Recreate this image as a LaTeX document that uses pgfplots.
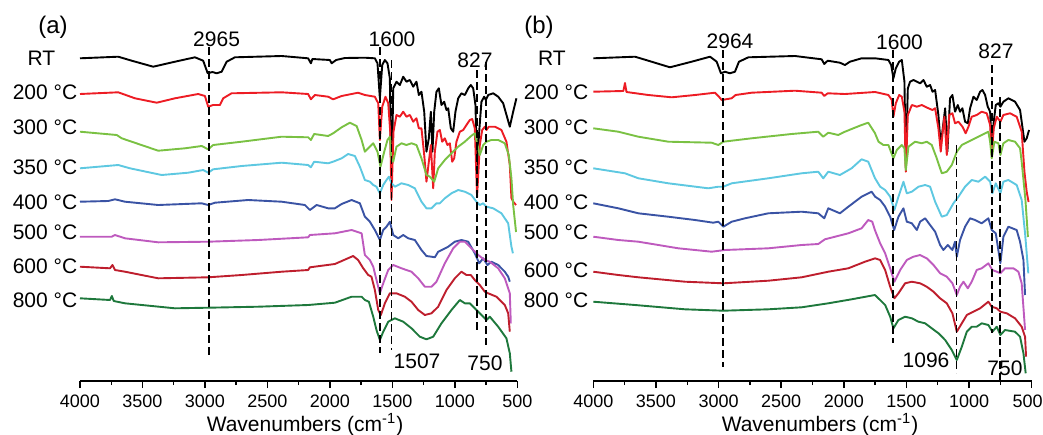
\documentclass[border=0pt]{standalone}
\usepackage{fontspec}
\setmainfont{Liberation Sans}
\usepackage{pgfplots}
\pgfplotsset{compat=1.18}

\definecolor{cRT}{RGB}{0,0,0}
\definecolor{cA}{RGB}{237,28,36}
\definecolor{cB}{RGB}{122,193,67}
\definecolor{cC}{RGB}{94,200,225}
\definecolor{cD}{RGB}{58,83,164}
\definecolor{cE}{RGB}{190,90,190}
\definecolor{cF}{RGB}{190,30,45}
\definecolor{cG}{RGB}{30,120,60}

\pgfplotsset{
  ftir/.style={
    scale only axis, height=170.5pt,
    xmin=500, xmax=4000, ymin=-381, ymax=-40, x dir=reverse,
    axis x line=bottom, axis y line=none,
    axis line style={-, line width=0.9pt},
    xtick={500,1000,...,4000}, minor x tick num=1,
    tick align=outside, major tick length=3.5pt, minor tick length=2pt,
    every tick/.style={black, line width=0.7pt},
    tick label style={font=\fontsize{9}{10}\selectfont},
    /pgf/number format/assume math mode=true,
    /pgf/number format/1000 sep={},
    clip=false,
    every axis plot/.append style={line width=0.95pt, line join=round, mark=none},
  },
}
\tikzset{peak/.style={black, line width=0.85pt, dash pattern=on 4pt off 2pt}}
\newcommand{\lab}{\fontsize{10.5}{12}\selectfont}

\begin{document}
\begin{tikzpicture}
\useasboundingbox (0,0) rectangle (521.5pt,-217pt);

% ---------------- panel (a) ----------------
\begin{axis}[ftir, width=218.65pt, anchor=south west, at={(40pt,-190.5pt)}]
% RT
\addplot[cRT] coordinates {(4000,-58.3) (3694,-56.7) (3586,-60.7) (3414,-66.7) (3240,-61.7) (3080,-57.3) (3014,-60.7) (2978,-73.3) (2940,-72) (2906,-73.3) (2866,-71.7) (2826,-61.7) (2760,-57.3) (2386,-56) (2174,-58.3) (2152,-63.3) (2140,-59) (2000,-60) (1986,-63.3) (1950,-60) (1880,-58) (1720,-57.7) (1640,-58.3) (1619,-63.3) (1600,-98.3) (1581,-65) (1560,-60) (1539,-63.3) (1520,-78.3) (1507,-192) (1493,-88.3) (1467,-81.7) (1440,-85) (1413,-76.7) (1387,-81.7) (1360,-80) (1333,-86.7) (1307,-81.7) (1288,-95) (1267,-91.7) (1245,-111.7) (1227,-151.7) (1208,-138.3) (1192,-111.7) (1179,-151.7) (1165,-111.7) (1147,-91.7) (1128,-88.3) (1107,-105) (1085,-101.7) (1067,-110) (1053,-108.3) (1032,-128.3) (1013,-131.7) (995,-111.7) (973,-98.3) (947,-93.3) (920,-95) (893,-88.3) (872,-85) (853,-88.3) (835,-105) (822,-165) (803,-128.3) (787,-101.7) (765,-96.7) (752,-100) (733,-95) (693,-93.3) (653,-96.7) (613,-103.3) (579,-118.3) (560,-126.7) (533,-111.7) (507,-98.3)};
% 200 C
\addplot[cA] coordinates {(4000,-94) (3694,-92.3) (3560,-98.3) (3386,-102.7) (3240,-98.3) (3054,-94) (3000,-96) (2974,-106.7) (2934,-105) (2880,-105) (2854,-98.3) (2787,-93.3) (2386,-92.3) (2174,-94) (2152,-99.3) (2120,-95) (2014,-96.7) (1974,-99.3) (1906,-96) (1774,-92.7) (1720,-95) (1640,-96.7) (1613,-103.3) (1600,-140) (1581,-106.7) (1555,-96.7) (1533,-103.3) (1517,-131.7) (1507,-200) (1491,-131.7) (1467,-115) (1440,-116.7) (1413,-111.7) (1387,-116.7) (1360,-115) (1333,-121.7) (1307,-118.3) (1288,-128.3) (1267,-128.3) (1245,-155) (1227,-181.7) (1208,-161.7) (1192,-145) (1173,-188.3) (1160,-151.7) (1139,-131.7) (1120,-130) (1101,-141.7) (1080,-138.3) (1059,-145) (1040,-143.3) (1021,-161.7) (1005,-158.3) (987,-141.7) (960,-131.7) (933,-130) (907,-125) (880,-120) (861,-119) (840,-128.3) (822,-197) (800,-145) (781,-130) (760,-126.7) (747,-130) (728,-126.7) (680,-126.7) (627,-130) (587,-141.7) (560,-165) (547,-198) (533,-201.7) (510,-205)};
% 300 C
\addplot[cB] coordinates {(4000,-131.7) (3706,-135) (3666,-138.3) (3586,-141.7) (3374,-150.7) (3160,-148.3) (3026,-146) (2974,-149.3) (2934,-145) (2706,-141.7) (2386,-136.7) (2174,-137.3) (2152,-140) (2126,-134) (2014,-136) (1974,-133.3) (1906,-127.3) (1840,-122.7) (1786,-126) (1746,-140) (1720,-151.7) (1693,-148.3) (1653,-143.3) (1619,-151.7) (1595,-166.7) (1565,-151.7) (1539,-140) (1520,-136.7) (1507,-160) (1493,-161.7) (1467,-146.7) (1427,-143.3) (1387,-145) (1347,-143.3) (1307,-145) (1267,-158.3) (1227,-175) (1200,-176.7) (1165,-181.7) (1133,-168.3) (1080,-160) (1027,-153.3) (973,-146.7) (920,-141.7) (867,-135.7) (840,-133.3) (819,-145) (800,-155) (773,-145) (747,-141.7) (707,-140) (653,-140) (600,-143.3) (568,-155) (547,-178.3) (533,-205) (510,-232)};
% 350 C
\addplot[cC] coordinates {(4000,-168.3) (3694,-165) (3600,-168.3) (3346,-175) (3134,-172.7) (3014,-170) (2974,-172.7) (2934,-169.3) (2706,-166) (2386,-162.7) (2174,-165) (2152,-167.3) (2126,-161.7) (2014,-163.3) (1974,-161.7) (1906,-158.3) (1854,-154) (1800,-156) (1760,-166.7) (1720,-180) (1680,-181.7) (1653,-185) (1627,-186.7) (1600,-193.3) (1573,-185) (1547,-180) (1528,-176.7) (1507,-183.3) (1480,-186.7) (1427,-183.3) (1373,-185) (1320,-188.3) (1267,-201.7) (1227,-208.3) (1187,-208.3) (1147,-203.3) (1120,-203.3) (1080,-198.3) (1027,-193.3) (973,-190) (920,-191.7) (867,-195) (827,-201.7) (800,-205) (773,-203.3) (747,-206.7) (693,-208.3) (627,-213.3) (573,-223.3) (547,-246.7) (535,-253.3)};
% 400 C
\addplot[cD] coordinates {(4000,-201.7) (3774,-201) (3720,-199.3) (3640,-201.7) (3374,-205) (3026,-203.3) (2974,-205) (2920,-202.7) (2654,-200) (2386,-201.7) (2200,-205) (2160,-210) (2106,-205) (2014,-208.3) (1960,-208.3) (1906,-204) (1826,-200) (1760,-203.3) (1720,-216.7) (1680,-221.7) (1640,-230) (1600,-240) (1573,-230) (1547,-226.7) (1520,-221.7) (1493,-235) (1453,-238.3) (1413,-235) (1373,-238.3) (1320,-240) (1267,-250) (1227,-256) (1187,-256.7) (1160,-257.3) (1133,-251.7) (1093,-249.3) (1053,-246.7) (1000,-241.7) (947,-240) (893,-241.7) (840,-253.3) (805,-263.3) (773,-258.3) (739,-265) (707,-261.7) (653,-265) (600,-271.7) (573,-276.7) (560,-281.7)};
% 500 C
\addplot[cE] coordinates {(4000,-236.7) (3746,-236.7) (3720,-235) (3640,-238.3) (3374,-242.3) (2974,-241.7) (2574,-240) (2174,-237.3) (2160,-235) (1960,-233.3) (1826,-230) (1746,-233.3) (1720,-255) (1680,-260) (1653,-266.7) (1627,-280) (1600,-293.3) (1573,-283.3) (1533,-270) (1493,-265) (1427,-268.3) (1347,-271.7) (1293,-278.3) (1240,-286.7) (1187,-286.7) (1147,-281.7) (1080,-263.3) (1013,-248.3) (960,-241.7) (920,-241.7) (867,-248.3) (813,-255) (760,-260) (720,-261.7) (653,-268.3) (600,-278.3) (560,-293.3) (552,-323.3)};
% 600 C
\addplot[cF] coordinates {(4000,-266.7) (3760,-268.3) (3740,-265) (3720,-270) (3640,-271.7) (3374,-278.3) (2974,-277.3) (2706,-275) (2386,-271.7) (2174,-270) (2160,-267.3) (1960,-264) (1814,-256) (1774,-260) (1733,-268.3) (1693,-275) (1667,-276.7) (1640,-290) (1613,-310) (1592,-315) (1560,-303.3) (1520,-293.3) (1467,-293.3) (1400,-296.7) (1347,-301.7) (1293,-310) (1240,-315) (1187,-313.3) (1133,-306.7) (1067,-290) (1000,-278.3) (947,-271.7) (907,-275) (872,-275) (840,-280) (800,-285) (760,-291.7) (733,-293.3) (667,-296.7) (600,-305) (573,-313.3) (560,-331.7)};
% 800 C
\addplot[cG] coordinates {(4000,-298.3) (3760,-300) (3745,-296) (3730,-301) (3640,-303.3) (3240,-308.3) (2974,-307.7) (2574,-306.7) (2174,-305) (1960,-302.7) (1826,-296.7) (1746,-296.7) (1720,-300) (1688,-301.7) (1653,-316.7) (1627,-330) (1600,-340) (1573,-331.7) (1533,-321.7) (1480,-318.3) (1413,-321.7) (1347,-328.3) (1280,-336.7) (1227,-339.3) (1173,-336.7) (1107,-323.3) (1027,-310) (960,-300) (920,-303.3) (880,-303.3) (827,-310) (773,-316.7) (747,-320) (720,-316.7) (653,-326.7) (587,-338.3) (560,-353.3) (547,-371.7)};
\draw[peak] (axis cs:2970,-47) -- (axis cs:2970,-357);
\draw[peak] (axis cs:1600,-47) -- (axis cs:1600,-353);
\draw[peak] (axis cs:1507,-60) -- (axis cs:1507,-350);
\draw[peak] (axis cs:825,-70) -- (axis cs:825,-330);
\draw[peak] (axis cs:752,-62) -- (axis cs:752,-345);
\end{axis}

% ---------------- panel (b) ----------------
\begin{axis}[ftir, width=219.2pt, anchor=south west, at={(296.65pt,-190.5pt)},
  xticklabels={\makebox[0pt][r]{500\hspace{-5.5pt}},1000,1500,2000,2500,3000,3500,4000}]
% RT
\addplot[cRT] coordinates {(4000,-58.3) (3667,-56.7) (3561,-60.7) (3388,-67.3) (3215,-61.7) (3068,-56.7) (3015,-61.7) (2981,-73.3) (2949,-71.7) (2909,-73.3) (2869,-71.7) (2837,-61.7) (2762,-57.3) (2390,-56) (2177,-59.3) (2156,-64) (2129,-60.7) (2031,-62.7) (1991,-65) (1951,-61.7) (1858,-58.3) (1750,-58.3) (1644,-60) (1622,-65) (1604,-78.3) (1585,-68.3) (1558,-61.7) (1537,-60) (1516,-81.7) (1505,-168.3) (1489,-88.3) (1471,-81.7) (1444,-80) (1417,-81.7) (1391,-83.3) (1364,-80) (1338,-86.7) (1311,-85) (1292,-91.7) (1271,-90) (1245,-115) (1226,-145) (1210,-128.3) (1191,-108.3) (1173,-151.7) (1152,-98.3) (1133,-95) (1112,-111.7) (1090,-105) (1072,-111.7) (1053,-108.3) (1032,-121.7) (1010,-123.3) (992,-108.3) (965,-96.7) (939,-100) (912,-91.7) (893,-90) (872,-95) (851,-106.7) (832,-111.7) (819,-148.3) (803,-121.7) (787,-105) (766,-103.3) (750,-106.7) (726,-101.7) (686,-98.3) (633,-101.7) (593,-110) (558,-141.7) (540,-138.3) (521,-130)};
% 200 C
\addplot[cA] coordinates {(4000,-91.7) (3760,-91) (3747,-83) (3735,-92) (3561,-95) (3374,-97.3) (3188,-95) (3029,-92.7) (2997,-96.7) (2975,-100) (2896,-98.3) (2864,-95) (2736,-92.7) (2390,-90.7) (2177,-92.7) (2156,-96) (2129,-93.3) (1991,-94) (1750,-92) (1644,-95) (1617,-100) (1604,-116.7) (1585,-103.3) (1558,-95) (1537,-96.7) (1516,-111.7) (1505,-171.7) (1489,-115) (1457,-105) (1417,-106.7) (1378,-105) (1324,-108.3) (1292,-110) (1271,-108.3) (1245,-128.3) (1226,-151.7) (1210,-131.7) (1197,-116.7) (1178,-155) (1159,-115) (1133,-113.3) (1112,-123.3) (1085,-121.7) (1053,-126.7) (1027,-133.3) (1005,-126.7) (979,-116.7) (939,-115) (899,-111.7) (859,-113.3) (832,-125) (819,-155) (803,-128.3) (779,-116.7) (750,-121.7) (726,-115) (673,-113.3) (620,-116.7) (580,-131.7) (558,-171.7) (540,-191.7) (525,-202)};
% 300 C
\addplot[cB] coordinates {(4000,-128.3) (3800,-131.7) (3640,-136.7) (3401,-141.7) (3055,-142.7) (3002,-145) (2962,-141.7) (2736,-138.3) (2417,-134) (2204,-131.7) (2164,-136.7) (2124,-132.7) (2044,-135) (1991,-131.7) (1858,-125) (1805,-122.7) (1752,-133) (1723,-141.7) (1684,-145) (1644,-145) (1604,-158.3) (1577,-150) (1537,-145) (1516,-148.3) (1505,-170) (1484,-146.7) (1431,-141.7) (1378,-143.3) (1338,-141.7) (1298,-145) (1258,-158.3) (1218,-173.3) (1178,-171.7) (1138,-165) (1098,-151.7) (1058,-145) (1005,-141.7) (952,-138.3) (899,-135) (846,-131.7) (832,-141.7) (819,-158.3) (798,-141.7) (766,-143.3) (750,-155) (726,-143.3) (686,-140) (633,-141.7) (593,-148.3) (580,-161.7) (550,-200) (530,-237)};
% 350 C
\addplot[cC] coordinates {(4000,-168.3) (3747,-173.3) (3640,-178.3) (3401,-183.3) (3082,-188.3) (3002,-186.7) (2962,-186.7) (2895,-183.3) (2603,-178.3) (2337,-173.3) (2204,-171.7) (2164,-178.3) (2124,-171.7) (2031,-175) (1938,-168.3) (1858,-159.3) (1805,-161.7) (1752,-178) (1710,-186.7) (1670,-190) (1630,-196.7) (1596,-210) (1564,-196.7) (1524,-181.7) (1497,-193.3) (1457,-191.7) (1404,-186.7) (1351,-185) (1311,-186.7) (1271,-201.7) (1218,-216.7) (1178,-215) (1125,-203.3) (1085,-196.7) (1032,-186.7) (979,-180) (925,-181.7) (872,-176.7) (832,-181.7) (814,-193.3) (787,-183.3) (750,-193.3) (726,-181.7) (686,-180) (620,-185) (580,-200) (553,-233.3) (527,-273.3)};
% 400 C
\addplot[cD] coordinates {(4000,-203.3) (3800,-208.3) (3640,-213.3) (3401,-216.7) (3188,-220) (3042,-222.7) (3002,-221.7) (2962,-226.7) (2895,-221.7) (2789,-218.3) (2603,-213.3) (2337,-211.7) (2204,-213.3) (2156,-218.3) (2124,-208.3) (2031,-213.3) (1964,-206.7) (1858,-196.7) (1778,-191.7) (1750,-196.7) (1710,-200) (1670,-206.7) (1630,-216.7) (1598,-230) (1564,-216.7) (1524,-208.3) (1497,-221.7) (1457,-223.3) (1417,-230) (1391,-221.7) (1351,-218.3) (1311,-225) (1271,-231.7) (1231,-245) (1205,-250) (1170,-245) (1133,-250) (1112,-241.7) (1098,-256.7) (1072,-240) (1032,-226.7) (992,-218.3) (952,-220) (899,-223.3) (846,-218.3) (819,-230) (787,-233.3) (750,-263.3) (726,-236.7) (686,-226.7) (620,-230) (593,-241.7) (566,-260) (553,-295)};
% 500 C
\addplot[cE] coordinates {(4000,-236.7) (3800,-240) (3640,-241.7) (3321,-248.3) (3055,-251.7) (2949,-250) (2603,-248.3) (2337,-245) (2204,-244) (2151,-239.3) (1964,-233.3) (1858,-228.3) (1805,-220) (1773,-221.7) (1752,-230) (1710,-243.3) (1670,-253.3) (1630,-268.3) (1596,-281.7) (1550,-270) (1497,-260) (1444,-256.7) (1391,-255) (1338,-258.3) (1284,-265) (1231,-273.3) (1178,-276.7) (1133,-283.3) (1098,-295) (1072,-286.7) (1045,-281.7) (1010,-288.3) (979,-281.7) (939,-270) (899,-268.3) (846,-263.3) (814,-270) (779,-271.7) (750,-273.3) (713,-268.3) (646,-268.3) (606,-271.7) (580,-283.3) (553,-330)};
% 600 C
\addplot[cF] coordinates {(4000,-271.7) (3800,-275) (3640,-277.3) (3268,-281.7) (2962,-283.3) (2603,-280.7) (2337,-277.3) (2124,-271.7) (1964,-268.3) (1831,-261.7) (1750,-258.3) (1710,-260) (1670,-270) (1630,-286.7) (1596,-298.3) (1564,-293.3) (1511,-283.3) (1457,-281.7) (1391,-283.3) (1338,-286.7) (1284,-291.7) (1231,-298.3) (1178,-303.3) (1133,-313.3) (1098,-331.7) (1058,-323.3) (1018,-315) (965,-311.7) (912,-308.3) (846,-301.7) (819,-306.7) (779,-308.3) (750,-311.7) (699,-313.3) (633,-318.3) (580,-326.7) (553,-336.7) (545,-356.7)};
% 800 C
\addplot[cG] coordinates {(4000,-301.7) (3667,-305) (3268,-309.3) (2962,-310.7) (2603,-309.3) (2337,-307.3) (2124,-303.3) (1938,-299.3) (1752,-295) (1710,-300) (1670,-305) (1630,-316.7) (1604,-328.3) (1564,-320) (1511,-316.7) (1457,-318.3) (1404,-321.7) (1351,-323.3) (1298,-328.3) (1244,-333.3) (1191,-340) (1138,-350) (1098,-360) (1058,-346.7) (1018,-331.7) (979,-326.7) (939,-326.7) (899,-323.3) (846,-325) (814,-331.7) (779,-326.7) (750,-335) (713,-330) (633,-331.7) (593,-336.7) (566,-353.3) (548,-373.3)};
\draw[peak] (axis cs:2962,-50) -- (axis cs:2962,-367);
\draw[peak] (axis cs:1605,-50) -- (axis cs:1605,-343);
\draw[peak] (axis cs:1100,-145) -- (axis cs:1100,-373);
\draw[peak] (axis cs:818,-65) -- (axis cs:818,-333);
\draw[peak] (axis cs:753,-97) -- (axis cs:753,-381);
\end{axis}

% ---------------- texts ----------------
\begin{scope}[every node/.style={font=\lab, inner sep=0pt}]
\node[font=\fontsize{12}{14}\selectfont] at (26.5pt,-13.5pt) {(a)};
\node at (108.3pt,-19.75pt) {2965};
\node at (196pt,-19.75pt) {1600};
\node at (237.5pt,-30pt) {827};
\node at (208.5pt,-180.5pt) {1507};
\node at (242.5pt,-181.5pt) {750};
\node at (20.75pt,-29pt) {RT};
\node at (22.5pt,-46pt) {200 °C};
\node at (22.5pt,-63.5pt) {300 °C};
\node at (22.5pt,-83.5pt) {350 °C};
\node at (22.5pt,-101pt) {400 °C};
\node at (22.5pt,-116pt) {500 °C};
\node at (22.5pt,-133pt) {600 °C};
\node at (22.5pt,-150pt) {800 °C};
\node at (152.5pt,-212.5pt) {Wavenumbers (cm\textsuperscript{-1})};

\node[font=\fontsize{12}{14}\selectfont] at (269.5pt,-13.5pt) {(b)};
\node at (365pt,-20.5pt) {2964};
\node at (449.75pt,-21pt) {1600};
\node at (498pt,-25.5pt) {827};
\node at (463pt,-180pt) {1096};
\node at (502.5pt,-184pt) {750};
\node at (276pt,-29pt) {RT};
\node at (278pt,-46pt) {200 °C};
\node at (278pt,-63.5pt) {300 °C};
\node at (278pt,-83.5pt) {350 °C};
\node at (278pt,-101pt) {400 °C};
\node at (278pt,-116pt) {500 °C};
\node at (278pt,-135pt) {600 °C};
\node at (278pt,-150pt) {800 °C};
\node at (410pt,-212.5pt) {Wavenumbers (cm\textsuperscript{-1})};
\end{scope}
\end{tikzpicture}
\end{document}
